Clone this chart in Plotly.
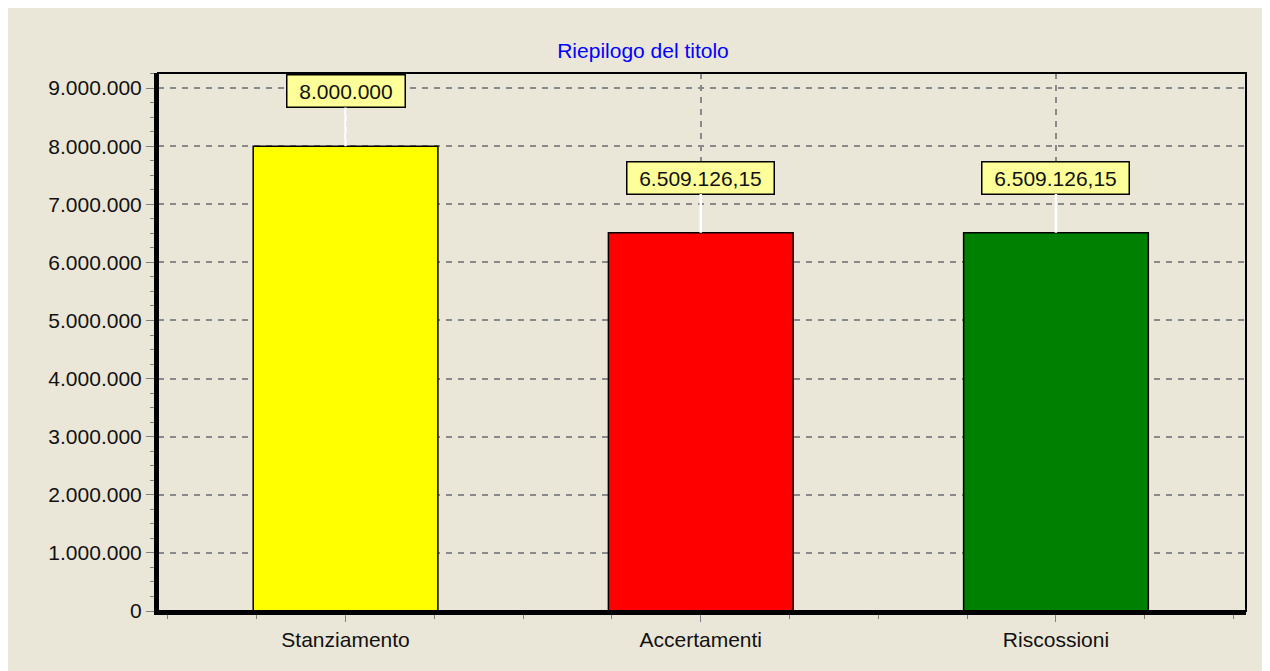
import plotly.graph_objects as go

categories = ["Stanziamento", "Accertamenti", "Riscossioni"]
values = [8000000, 6509126.15, 6509126.15]
colors = ["#ffff00", "#ff0000", "#008000"]
title = "Riepilogo del titolo"


def it_format(v):
    s = f"{v:,.2f}".replace(",", "X").replace(".", ",").replace("X", ".")
    if s.endswith(",00"):
        s = s[:-3]
    return s


def box_width(text, size):
    # rough Arial advance widths, used to pad the label boxes
    w = sum(0.278 if c in ".," else 0.556 for c in text) * size
    return int(w + 16)


positions = list(range(len(categories)))
beige = "#ebe7d8"
font = "Liberation Sans, Arial, sans-serif"
fsize = 21

fig = go.Figure()
fig.add_trace(go.Bar(
    x=positions,
    y=values,
    width=0.52,
    marker=dict(color=colors, line=dict(color="black", width=1.5)),
    showlegend=False,
    hoverinfo="skip"
))

for p, v in zip(positions, values):
    label = it_format(v)
    fig.add_annotation(
        x=p, y=v, text=label,
        width=box_width(label, fsize),
        showarrow=True, arrowhead=0, arrowwidth=2.5, arrowcolor="white",
        ax=0, ay=-55, standoff=0,
        bgcolor="#ffff99", bordercolor="black", borderwidth=1.5, borderpad=4,
        font=dict(family=font, size=fsize, color="#111111")
    )

# thin frame around plot area
fig.add_shape(type="rect", xref="paper", yref="paper",
              x0=0, x1=1, y0=0, y1=1,
              line=dict(color="black", width=2))

fig.update_layout(
    width=1270, height=671,
    margin=dict(l=150, r=32, t=65, b=68),
    paper_bgcolor=beige,
    plot_bgcolor=beige,
    separators=",.",
    title=dict(text=title, x=0.5, xref="container", y=1 - 43 / 671,
               yref="container", xanchor="center", yanchor="middle",
               font=dict(family=font, size=fsize, color="#0000ff")),
    font=dict(family=font, size=fsize, color="#111111"),
    xaxis=dict(
        range=[-0.528, 2.535],
        tickvals=positions, ticktext=categories,
        showgrid=True, gridcolor="#8a8a8a", griddash="6px,6px", gridwidth=1.5,
        zeroline=False,
        showline=True, linecolor="black", linewidth=4,
        ticks="outside", ticklen=7, tickcolor="#808080", tickwidth=1,
        minor=dict(dtick=0.25, tick0=0, ticks="outside", ticklen=4,
                   tickcolor="#808080", showgrid=False),
        tickfont=dict(size=fsize)
    ),
    yaxis=dict(
        range=[0, 9259000],
        dtick=1000000, tickformat=",d",
        showgrid=True, gridcolor="#8a8a8a", griddash="6px,6px", gridwidth=1.5,
        zeroline=False,
        showline=True, linecolor="black", linewidth=4,
        ticks="outside", ticklen=8, tickcolor="#808080", tickwidth=1,
        minor=dict(dtick=250000, ticks="outside", ticklen=4,
                   tickcolor="#808080", showgrid=False),
        tickfont=dict(size=fsize)
    )
)

fig.write_html("out.html")
